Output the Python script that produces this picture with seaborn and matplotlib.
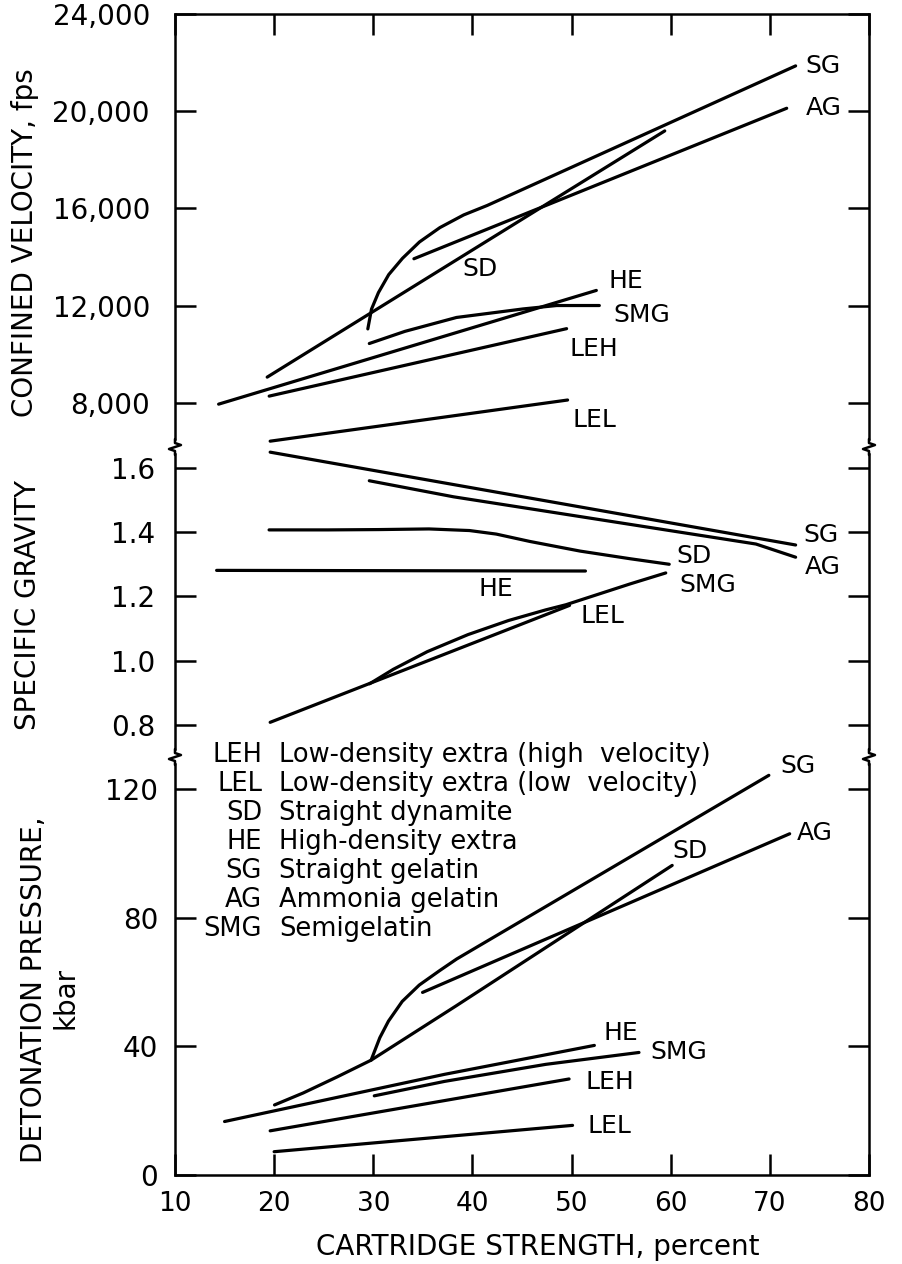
import pandas as pd
import numpy as np
import matplotlib
matplotlib.use('Agg')
import matplotlib.pyplot as plt
import seaborn as sns
from matplotlib.lines import Line2D

# values (x = cartridge strength, percent)
# confined velocity, fps
vel_sg_x = [29.45, 29.82, 30.52, 31.56, 32.95, 34.66, 36.72, 39.12, 41.5, 72.6]
vel_sg_y = [11050, 11860, 12540, 13280, 13950, 14620, 15210, 15730, 16120, 21850]
vel_ag_x = [34.1, 71.7]
vel_ag_y = [13930, 20110]
vel_sd_x = [19.3, 59.4]
vel_sd_y = [9070, 19180]
vel_he_x = [14.4, 52.5]
vel_he_y = [7960, 12630]
vel_smg_x = [29.6, 33.2, 38.4, 45.1, 48.5, 52.8]
vel_smg_y = [10450, 10950, 11520, 11870, 12010, 12010]
vel_leh_x = [19.5, 49.5]
vel_leh_y = [8290, 11060]
vel_lel_x = [19.6, 49.6]
vel_lel_y = [6440, 8130]

# specific gravity
sg_sg_x = [19.6, 72.6]
sg_sg_y = [1.649, 1.360]
sg_ag_x = [29.6, 38.1, 68.6, 72.6]
sg_ag_y = [1.560, 1.510, 1.363, 1.322]
sg_sd_x = [19.49, 25.44, 30.53, 35.62, 39.7, 42.4, 45.8, 50.87, 55.96, 59.85]
sg_sd_y = [1.407, 1.407, 1.408, 1.410, 1.405, 1.394, 1.371, 1.341, 1.317, 1.300]
sg_he_x = [14.2, 51.4]
sg_he_y = [1.281, 1.279]
sg_smg_x = [29.63, 32.02, 35.45, 39.55, 43.65, 47.39, 49.43, 55.92, 59.5]
sg_smg_y = [0.928, 0.973, 1.028, 1.081, 1.125, 1.158, 1.174, 1.239, 1.273]
sg_lel_x = [19.6, 49.8]
sg_lel_y = [0.808, 1.172]

# detonation pressure, kbar
pr_sg_x = [29.78, 30.66, 31.53, 32.92, 34.64, 36.7, 38.41, 69.9]
pr_sg_y = [35.6, 42.6, 47.75, 53.9, 59.0, 63.5, 67.1, 124.3]
pr_ag_x = [34.97, 72.0]
pr_ag_y = [56.7, 106.1]
pr_sd_x = [20.04, 22.94, 26.36, 29.78, 38.35, 60.15]
pr_sd_y = [21.66, 25.4, 30.4, 35.6, 52.5, 96.25]
pr_he_x = [15.0, 37.2, 52.3]
pr_he_y = [16.5, 31.2, 40.2]
pr_smg_x = [30.1, 37.2, 47.4, 56.8]
pr_smg_y = [24.5, 29.0, 34.3, 38.0]
pr_leh_x = [19.6, 49.75]
pr_leh_y = [13.6, 29.75]
pr_lel_x = [20.0, 50.1]
pr_lel_y = [7.1, 15.3]

x_ticks = [10, 20, 30, 40, 50, 60, 70, 80]
vel_ticks = [8000, 12000, 16000, 20000, 24000]
vel_tick_labels = ['8,000', '12,000', '16,000', '20,000', '24,000']
sg_ticks = [0.8, 1.0, 1.2, 1.4, 1.6]
sg_tick_labels = ['0.8', '1.0', '1.2', '1.4', '1.6']
pr_ticks = [0, 40, 80, 120]
pr_tick_labels = ['0', '40', '80', '120']

legend_abbr = ['LEH', 'LEL', 'SD', 'HE', 'SG', 'AG', 'SMG']
legend_desc = ['Low-density extra (high  velocity)', 'Low-density extra (low  velocity)',
               'Straight dynamite', 'High-density extra', 'Straight gelatin',
               'Ammonia gelatin', 'Semigelatin']

#%% figure
sns.set_theme(style='ticks')
plt.rcParams['font.family'] = ['DejaVu Sans']
plt.rcParams['axes.linewidth'] = 1.8
plt.rcParams['text.color'] = 'black'
plt.rcParams['axes.labelcolor'] = 'black'

W, H = 902, 1264
fig = plt.figure(figsize=(W / 100, H / 100), dpi=100)
gs = fig.add_gridspec(3, 1, height_ratios=[433.5, 310, 417.5], hspace=0,
                      left=0.194, right=0.9634, top=0.9893, bottom=0.0708)
ax_v = fig.add_subplot(gs[0])
ax_s = fig.add_subplot(gs[1], sharex=ax_v)
ax_p = fig.add_subplot(gs[2], sharex=ax_v)


def draw_panel(ax, series, offsets):
    df = pd.concat([pd.DataFrame({'strength': x, 'value': y, 'mix': name})
                    for name, (x, y) in series.items()], ignore_index=True)
    sns.lineplot(data=df, x='strength', y='value', units='mix', estimator=None,
                 sort=False, color='black', lw=2.3, ax=ax, legend=False)
    for name, (x, y) in series.items():
        ax.annotate(name, xy=(x[-1], y[-1]), xytext=offsets[name],
                    textcoords='offset pixels', ha='center', va='center',
                    fontsize=18, color='black')
    ax.set_xlabel('')
    ax.set_ylabel('')


draw_panel(ax_v,
           {'SG': (vel_sg_x, vel_sg_y), 'AG': (vel_ag_x, vel_ag_y),
            'SD': (vel_sd_x, vel_sd_y), 'HE': (vel_he_x, vel_he_y),
            'SMG': (vel_smg_x, vel_smg_y), 'LEH': (vel_leh_x, vel_leh_y),
            'LEL': (vel_lel_x, vel_lel_y)},
           {'SG': (27, 0), 'AG': (37, 0), 'SD': (-185, -138), 'HE': (30, 9),
            'SMG': (42, -9), 'LEH': (27, -20), 'LEL': (27, -20)})
draw_panel(ax_s,
           {'SG': (sg_sg_x, sg_sg_y), 'AG': (sg_ag_x, sg_ag_y),
            'SD': (sg_sd_x, sg_sd_y), 'HE': (sg_he_x, sg_he_y),
            'SMG': (sg_smg_x, sg_smg_y), 'LEL': (sg_lel_x, sg_lel_y)},
           {'SG': (25, 10), 'AG': (27, -10), 'SD': (25, 8), 'HE': (-90, -18),
            'SMG': (42, -12), 'LEL': (33, -11)})
draw_panel(ax_p,
           {'SG': (pr_sg_x, pr_sg_y), 'AG': (pr_ag_x, pr_ag_y),
            'SD': (pr_sd_x, pr_sd_y), 'HE': (pr_he_x, pr_he_y),
            'SMG': (pr_smg_x, pr_smg_y), 'LEH': (pr_leh_x, pr_leh_y),
            'LEL': (pr_lel_x, pr_lel_y)},
           {'SG': (29, 9), 'AG': (25, 1), 'SD': (18, 14), 'HE': (27, 12),
            'SMG': (40, 0), 'LEH': (41, -3), 'LEL': (37, -1)})

ax_v.set_xlim(10, 80)
ax_v.set_ylim(6200, 24000)
ax_s.set_ylim(0.70, 1.665)
ax_p.set_ylim(0, 130)

tick_kw = dict(direction='in', length=15, width=1.8, colors='black')
ax_v.set_yticks(vel_ticks, vel_tick_labels)
ax_s.set_yticks(sg_ticks, sg_tick_labels)
ax_p.set_yticks(pr_ticks, pr_tick_labels)
ax_p.set_xticks(x_ticks, [str(t) for t in x_ticks])

for ax, pad in ((ax_v, 18), (ax_s, 14), (ax_p, 12)):
    ax.tick_params(axis='y', left=True, right=True, labelright=False,
                   labelsize=20, pad=pad, **tick_kw)
ax_v.tick_params(axis='x', top=True, bottom=False, labelbottom=False, labeltop=False, **tick_kw)
ax_s.tick_params(axis='x', top=False, bottom=False, labelbottom=False, **tick_kw)
ax_p.tick_params(axis='x', top=False, bottom=True, labelsize=19, pad=12, **tick_kw)

ax_v.spines['bottom'].set_visible(False)
ax_s.spines['top'].set_visible(False)
ax_s.spines['bottom'].set_visible(False)
ax_p.spines['top'].set_visible(False)
for ax in (ax_v, ax_s, ax_p):
    for s in ax.spines.values():
        s.set_color('black')

# break marks on the side spines
zig = [(0, 8), (0, 4), (6, 2), (-6, -2), (0, -4), (0, -8)]
for ax in (ax_v, ax_s):
    pos = ax.get_position()
    for fx in (pos.x0, pos.x1):
        fy = pos.y0
        fig.add_artist(Line2D([fx, fx], [fy - 4 / H, fy + 4 / H], color='white',
                              lw=4, transform=fig.transFigure))
        fig.add_artist(Line2D([fx + dx / W for dx, dy in zig],
                              [fy + dy / H for dx, dy in zig], color='black',
                              lw=1.8, transform=fig.transFigure))

# key of abbreviations
for i, (abbr, desc) in enumerate(zip(legend_abbr, legend_desc)):
    fy = 1 - (755 + 29 * i) / H
    fig.text(262 / W, fy, abbr, ha='right', va='center', fontsize=18.5)
    fig.text(279 / W, fy, desc, ha='left', va='center', fontsize=18.5)

# axis titles
fig.text(25 / W, 1 - 243 / H, 'CONFINED VELOCITY, fps', rotation=90,
         ha='center', va='center', fontsize=20)
fig.text(28 / W, 1 - 605 / H, 'SPECIFIC GRAVITY', rotation=90,
         ha='center', va='center', fontsize=20)
fig.text(34 / W, 1 - 990 / H, 'DETONATION PRESSURE,', rotation=90,
         ha='center', va='center', fontsize=20)
fig.text(65 / W, 1 - 998 / H, 'kbar', rotation=90,
         ha='center', va='center', fontsize=20)
fig.text(538 / W, 1 - 1247 / H, 'CARTRIDGE STRENGTH, percent',
         ha='center', va='center', fontsize=20)

fig.savefig('out.png', dpi=100, facecolor='white')
